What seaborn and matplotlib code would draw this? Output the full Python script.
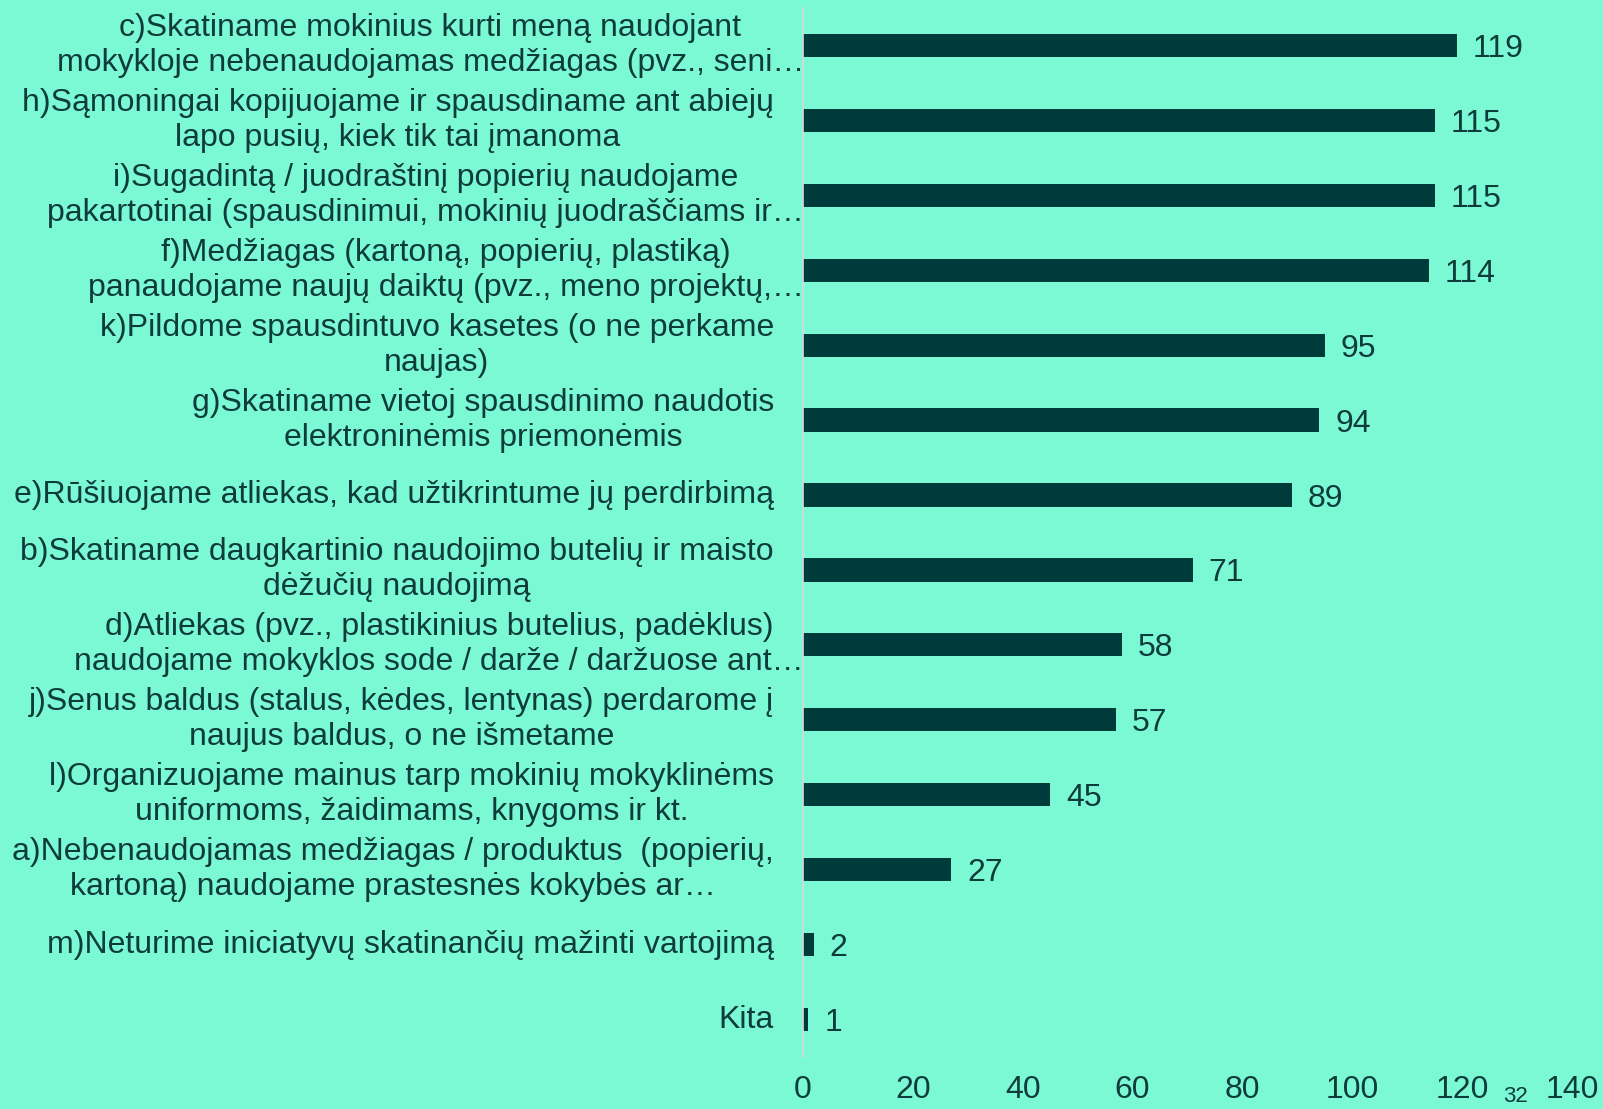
import matplotlib.pyplot as plt
import pandas as pd
import seaborn as sns

# Chart data
labels = [
    "c)Skatiname mokinius kurti meną naudojant\nmokykloje nebenaudojamas medžiagas (pvz., seni…",
    "h)Sąmoningai kopijuojame ir spausdiname ant abiejų\nlapo pusių, kiek tik tai įmanoma",
    "i)Sugadintą / juodraštinį popierių naudojame\npakartotinai (spausdinimui, mokinių juodraščiams ir…",
    "f)Medžiagas (kartoną, popierių, plastiką)\npanaudojame naujų daiktų (pvz., meno projektų,…",
    "k)Pildome spausdintuvo kasetes (o ne perkame\nnaujas)",
    "g)Skatiname vietoj spausdinimo naudotis\nelektroninėmis priemonėmis",
    "e)Rūšiuojame atliekas, kad užtikrintume jų perdirbimą",
    "b)Skatiname daugkartinio naudojimo butelių ir maisto\ndėžučių naudojimą",
    "d)Atliekas (pvz., plastikinius butelius, padėklus)\nnaudojame mokyklos sode / darže / daržuose ant…",
    "j)Senus baldus (stalus, kėdes, lentynas) perdarome į\nnaujus baldus, o ne išmetame",
    "l)Organizuojame mainus tarp mokinių mokyklinėms\nuniformoms, žaidimams, knygoms ir kt.",
    "a)Nebenaudojamas medžiagas / produktus  (popierių,\nkartoną) naudojame prastesnės kokybės ar…",
    "m)Neturime iniciatyvų skatinančių mažinti vartojimą",
    "Kita",
]
values = [119, 115, 115, 114, 95, 94, 89, 71, 58, 57, 45, 27, 2, 1]
xticks = [0, 20, 40, 60, 80, 100, 120, 140]
# labels whose cut line runs past the axis line
overflow = {0, 2, 3, 8}

bg = '#7BF9D4'
bar_color = '#003B3B'
text_color = '#0E3C3C'

df = pd.DataFrame({'label': labels, 'value': values})

sns.set_theme(style="white")
plt.rcParams['font.family'] = ['Liberation Sans', 'DejaVu Sans']

fig = plt.figure(figsize=(16.03, 11.09), dpi=100, facecolor=bg)
ax = fig.add_axes([0.5009, 0.0469, 0.4797, 0.9459])
ax.set_facecolor(bg)

sns.barplot(data=df, x='value', y='label', orient='h', color=bar_color,
            width=0.31, saturation=1, linewidth=0, ax=ax)

ax.set_xlim(0, 140)
ax.set_ylim(len(labels) - 0.5, -0.5)
ax.set_xticks(xticks)
ax.set_xticklabels([str(t) for t in xticks], fontsize=23, color=text_color)
ax.tick_params(axis='x', length=0, pad=13)
ax.set_xlabel('')
ax.set_ylabel('')
ax.set_yticks([])

for side in ['top', 'right', 'bottom']:
    ax.spines[side].set_visible(False)
ax.spines['left'].set_color('#D9D9D9')
ax.spines['left'].set_linewidth(1.2)

# category labels, centred lines, right aligned block
ytrans = ax.get_yaxis_transform()
for i, lab in enumerate(labels):
    xpos = 0.0013 if i in overflow else -0.0377
    ax.text(xpos, i, lab, transform=ytrans, ha='right', va='center',
            multialignment='center', fontsize=23, color=text_color,
            linespacing=1.22)

# value labels
for i, v in enumerate(values):
    ax.text(v + 2.9, i, str(v), ha='left', va='center_baseline', fontsize=23,
            color=text_color)

# page number
fig.text(1515 / 1603, 1 - 1097 / 1109, '32', ha='center', va='center',
         fontsize=16, color=text_color)

fig.savefig('out.png', dpi=100, facecolor=bg)
